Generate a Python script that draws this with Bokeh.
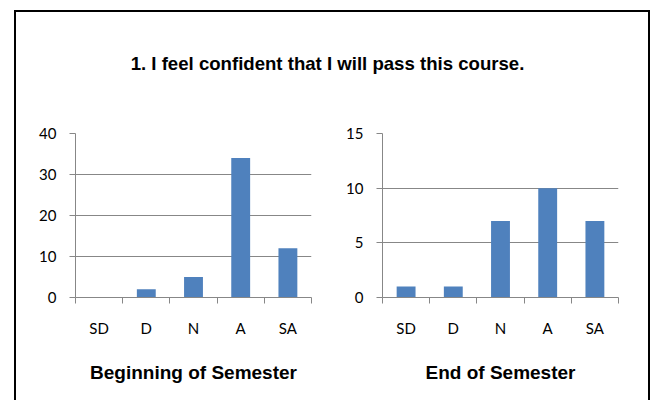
from bokeh.plotting import figure
from bokeh.layouts import column, row
from bokeh.models import Range1d, FixedTicker, Label
from bokeh.embed import file_html
from bokeh.resources import INLINE

# ---- data ----
categories = ["SD", "D", "N", "A", "SA"]
begin_values = [0, 2, 5, 34, 12]
end_values = [1, 1, 7, 10, 7]
begin_yticks = [0, 10, 20, 30, 40]
end_yticks = [0, 5, 10, 15]
main_title = "1. I feel confident that I will pass this course."
begin_label = "Beginning of Semester"
end_label = "End of Semester"

BAR = "#4F81BD"
GRID = "#878787"
TICK_FONT = "Lato"
BOLD_FONT = "Liberation Sans"

x_centers = [i + 0.5 for i in range(len(categories))]
x_bounds = list(range(len(categories) + 1))


def make_chart(values, yticks, xlabel, width, mbl, mbr):
    p = figure(width=width, height=278, output_backend="svg", toolbar_location=None,
               x_range=Range1d(0, len(categories)), y_range=Range1d(0, yticks[-1]),
               min_border_left=mbl, min_border_right=mbr, min_border_top=11,
               min_border_bottom=103)
    p.vbar(x=x_centers, top=values, width=0.4, bottom=0, color=BAR, line_color=None)
    p.outline_line_color = None
    p.xgrid.visible = False
    p.ygrid.grid_line_color = GRID
    p.ygrid.grid_line_width = 1
    p.ygrid.ticker = FixedTicker(ticks=yticks)

    ya = p.yaxis[0]
    ya.ticker = FixedTicker(ticks=yticks)
    ya.axis_line_color = GRID
    ya.major_tick_line_color = GRID
    ya.major_tick_out = 6
    ya.major_tick_in = 0
    ya.minor_tick_line_color = None
    ya.major_label_standoff = 13
    ya.major_label_text_font = TICK_FONT
    ya.major_label_text_font_size = "15px"
    ya.major_label_text_color = "#000000"

    xa = p.xaxis[0]
    xa.ticker = FixedTicker(ticks=x_centers, minor_ticks=x_bounds)
    xa.major_label_overrides = {c: lab for c, lab in zip(x_centers, categories)}
    xa.axis_line_color = GRID
    xa.major_tick_line_color = None
    xa.major_tick_out = 0
    xa.major_tick_in = 0
    xa.minor_tick_line_color = GRID
    xa.minor_tick_out = 6
    xa.minor_tick_in = 0
    xa.major_label_standoff = 15
    xa.major_label_text_font = TICK_FONT
    xa.major_label_text_font_size = "15px"
    xa.major_label_text_color = "#000000"
    xa.axis_label = xlabel
    xa.axis_label_standoff = 22
    xa.axis_label_text_font = BOLD_FONT
    xa.axis_label_text_font_style = "bold"
    xa.axis_label_text_font_size = "19px"
    xa.axis_label_text_color = "#000000"
    return p


p1 = make_chart(begin_values, begin_yticks, begin_label, 324, 59, 29)
p2 = make_chart(end_values, end_yticks, end_label, 308, 42, 30)

top = figure(width=632, height=110, output_backend="svg", toolbar_location=None,
             x_range=Range1d(0, 1), y_range=Range1d(0, 1),
             min_border=0)
top.axis.visible = False
top.grid.visible = False
top.outline_line_color = None
top.add_layout(Label(x=311, y=59, x_units="screen", y_units="screen", text=main_title,
                     text_align="center", text_baseline="middle",
                     text_font=BOLD_FONT, text_font_style="bold",
                     text_font_size="18.6px", text_color="#000000"))

layout = column(top, row(p1, p2),
                margin=(10, 0, 0, 14),
                styles={"border-top": "2px solid #000", "border-left": "2px solid #000",
                        "border-right": "2px solid #000", "background": "#ffffff"})

open("out.html", "w").write(file_html(layout, INLINE))
